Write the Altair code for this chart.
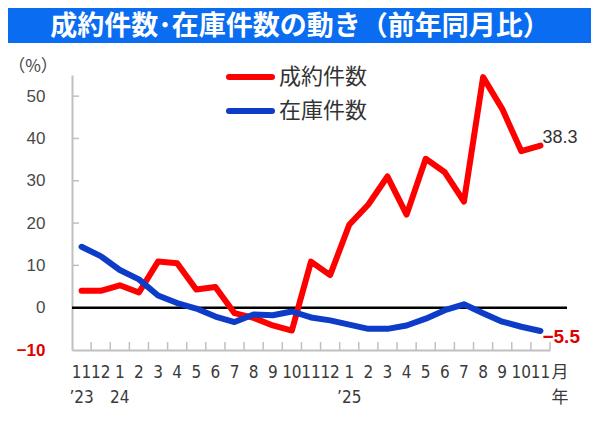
import altair as alt
import pandas as pd

title_text = "成約件数･在庫件数の動き（前年同月比）"
months = ["11", "12", "1", "2", "3", "4", "5", "6", "7", "8", "9", "10",
          "11", "12", "1", "2", "3", "4", "5", "6", "7", "8", "9", "10", "11"]
idx = list(range(len(months)))
contracts = [4.0, 4.0, 5.3, 3.6, 10.9, 10.5, 4.3, 4.9, -1.3, -2.4, -4.2, -5.4,
             10.9, 7.7, 19.6, 24.4, 31.0, 22.0, 35.2, 32.0, 25.1, 54.5, 47.0, 37.0, 38.3]
inventory = [14.4, 12.2, 8.9, 6.7, 2.9, 1.1, -0.2, -2.1, -3.4, -1.6, -1.8, -0.9,
             -2.3, -3.0, -4.0, -5.0, -5.0, -4.2, -2.6, -0.6, 0.8, -1.3, -3.3, -4.5, -5.5]
series_names = ["成約件数", "在庫件数"]
series_colors = ["#FF0000", "#0D3CC8"]
year_idx = [0, 2, 14]
year_text = ["’23", "24", "’25"]
y_ticks = [-10, 0, 10, 20, 30, 40, 50]
end_labels = ["38.3", "−5.5"]

W, H = 478, 275
JP = "Noto Sans CJK JP"
NUM = "Liberation Sans Narrow, DejaVu Sans Condensed, Liberation Sans"

rows = []
for name, vals in zip(series_names, [contracts, inventory]):
    for i, v in zip(idx, vals):
        rows.append({"idx": i, "series": name, "value": v})
df = pd.DataFrame(rows)

month_arr = "[" + ",".join("'%s'" % m for m in months) + "]"

xscale = alt.Scale(type="band", paddingInner=0, paddingOuter=0)
yscale = alt.Scale(domain=[-10, 55], nice=False)
cscale = alt.Scale(domain=series_names, range=series_colors)

x_axis = alt.Axis(title=None, labelExpr=month_arr + "[datum.value]", ticks=False,
                  domainColor="#C0C0C0", domainWidth=2, labelAngle=0,
                  labelFont=NUM, labelFontSize=17, labelColor="#3A3A3A",
                  labelPadding=14, labelOverlap=False, labelBound=False, grid=False)
y_axis = alt.Axis(title=None, values=y_ticks, grid=False, ticks=False,
                  domainColor="#C0C0C0", domainWidth=2, labelPadding=27,
                  labelFont="Liberation Sans", labelFontSize=17,
                  labelColor=alt.ExprRef(expr="datum.value < 0 ? '#E00000' : '#4A4A4A'"),
                  labelFontWeight=alt.ExprRef(expr="datum.value < 0 ? 'bold' : 'normal'"))


def X(field, bp=0.5):
    return alt.X(field, scale=xscale, bandPosition=bp, axis=x_axis)


def Y(field):
    return alt.Y(field, scale=yscale, axis=y_axis)


lines = alt.Chart(df).mark_line(strokeWidth=6, strokeJoin="round", strokeCap="round").encode(
    x=X("idx:O"), y=Y("value:Q"),
    color=alt.Color("series:N", scale=cscale, legend=None),
    order=alt.Order("idx:Q"),
)

zero = alt.Chart(pd.DataFrame({"value": [0]})).mark_rule(color="black", strokeWidth=2.5).encode(
    y=Y("value:Q"), x=alt.value(0), x2=alt.value(495))

xt = alt.Chart(pd.DataFrame({"idx": idx})).mark_rule(color="#C0C0C0", strokeWidth=1.5).encode(
    x=X("idx:O", 1), y=alt.value(H - 8), y2=alt.value(H))

yt = alt.Chart(pd.DataFrame({"value": y_ticks[2:]})).mark_rule(color="#C0C0C0", strokeWidth=1.5).encode(
    y=Y("value:Q"), x=alt.value(0), x2=alt.value(7))

years = alt.Chart(pd.DataFrame({"idx": year_idx, "t": year_text})).mark_text(
    font=NUM, fontSize=17, color="#3A3A3A", baseline="middle").encode(
    x=X("idx:O"), y=alt.value(H + 48), text="t:N")

unit_m = alt.Chart(pd.DataFrame({"t": ["月"]})).mark_text(
    font=JP, fontSize=17, color="#3A3A3A", baseline="middle").encode(
    x=alt.value(488), y=alt.value(H + 23), text="t:N")
unit_y = alt.Chart(pd.DataFrame({"t": ["年"]})).mark_text(
    font=JP, fontSize=17, color="#3A3A3A", baseline="middle").encode(
    x=alt.value(488), y=alt.value(H + 48), text="t:N")

end_top = alt.Chart(pd.DataFrame({"idx": [24], "value": [contracts[-1]], "t": [end_labels[0]]})).mark_text(
    align="left", dx=2, dy=-8, fontSize=18, font="Liberation Sans", color="#333333").encode(
    x=X("idx:O"), y=Y("value:Q"), text="t:N")
end_bot = alt.Chart(pd.DataFrame({"idx": [24], "value": [inventory[-1]], "t": [end_labels[1]]})).mark_text(
    align="left", dx=2, dy=6, fontSize=19, font="Liberation Sans", fontWeight="bold",
    color="#E00000").encode(
    x=X("idx:O"), y=Y("value:Q"), text="t:N")

pct = alt.Chart(pd.DataFrame({"t": ["（%）"]})).mark_text(
    font=JP, fontSize=17, color="#444444", baseline="middle").encode(
    x=alt.value(-39), y=alt.value(-8), text="t:N")

leg = []
for name, col, yy in zip(series_names, series_colors, [2, 36]):
    d = pd.DataFrame({"series": [name]})
    leg.append(alt.Chart(d).mark_rule(strokeWidth=6, strokeCap="round", color=col).encode(
        x=alt.value(157), x2=alt.value(200), y=alt.value(yy)))
    leg.append(alt.Chart(d).mark_text(font=JP, fontSize=22, color="#333333", align="left",
                                      baseline="middle").encode(
        x=alt.value(207), y=alt.value(yy), text="series:N"))

banner = alt.Chart(pd.DataFrame({"t": [title_text]})).mark_rect(color="#0A6CF0").encode(
    x=alt.value(-64), x2=alt.value(520), y=alt.value(-70), y2=alt.value(-32))
btitle = alt.Chart(pd.DataFrame({"t": [title_text]})).mark_text(
    font=JP, fontSize=27, fontWeight="bold", color="white", baseline="middle").encode(
    x=alt.value(228), y=alt.value(-48), text="t:N")

chart = alt.layer(banner, btitle, pct, zero, lines, xt, yt, years, unit_m, unit_y,
                  end_top, end_bot, *leg).properties(
    width=W, height=H,
    autosize=alt.AutoSizeParams(type="none"),
    padding={"left": 64, "top": 67, "right": 41, "bottom": 67},
).configure_view(stroke=None)

chart.save("out.html", embed_options={"renderer": "svg", "actions": False})
